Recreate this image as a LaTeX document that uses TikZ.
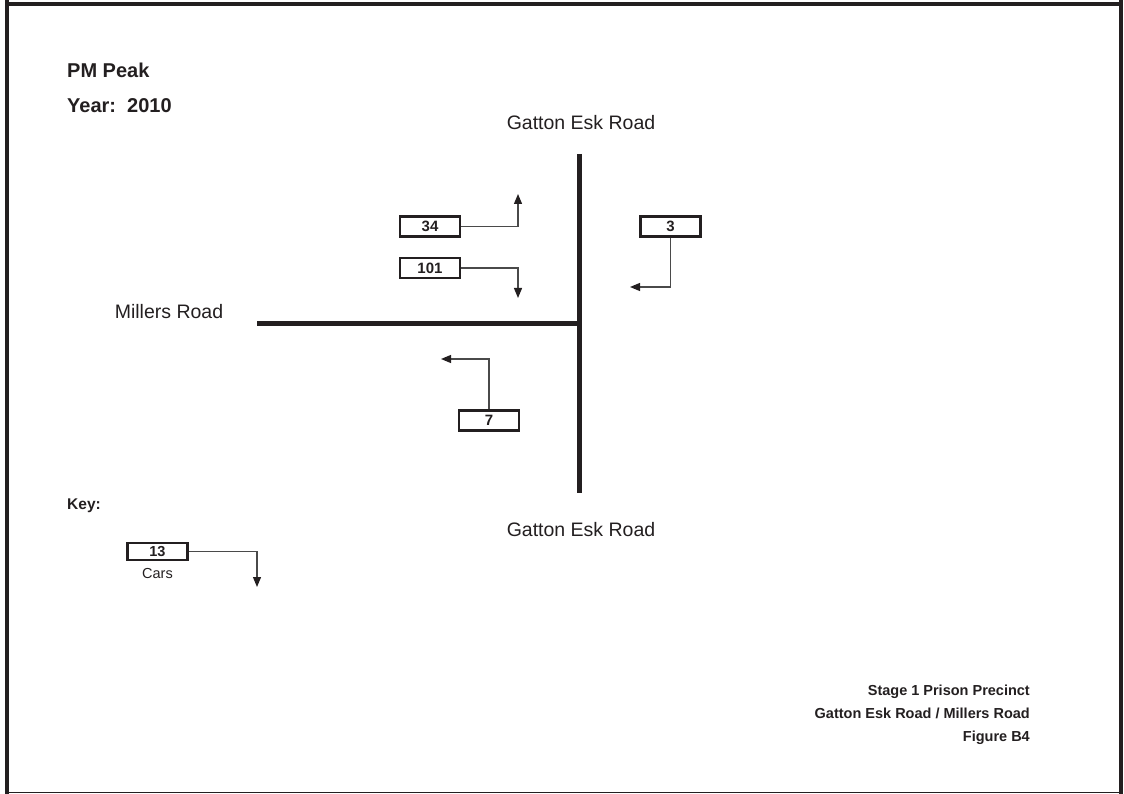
\documentclass[tikz,border=0pt]{standalone}
\usepackage{fontspec}
\setmainfont{Liberation Sans}
\usetikzlibrary{arrows.meta}
\definecolor{ink}{HTML}{231F20}
\definecolor{lead}{HTML}{4A4A4A}
\begin{document}
\begin{tikzpicture}[x=1pt,y=-1pt,
  frame/.style={draw=ink,line width=4pt},
  road/.style={draw=ink,line width=5pt},
  countbox/.style={draw=ink,line width=2.3pt,minimum width=60pt,minimum height=20pt,inner sep=0pt,font=\bfseries\fontsize{15}{15}\selectfont,text=ink},
  lead/.style={draw=lead,line width=1.2pt,-{Triangle[length=10pt,width=8pt,color=ink]}},
  bigtxt/.style={font=\bfseries\fontsize{20}{20}\selectfont,text=ink,anchor=west,inner sep=0pt},
  roadtxt/.style={font=\fontsize{19.5}{19.5}\selectfont,text=ink,inner sep=0pt},
  smalltxt/.style={font=\bfseries\fontsize{14.5}{14.5}\selectfont,text=ink,inner sep=0pt,anchor=east}
]
\useasboundingbox (0,0) rectangle (1124,794);
% frame
\draw[frame] (6.5,0) -- (6.5,794);
\draw[frame] (1121,0) -- (1121,794);
\draw[frame] (6.5,4.5) -- (1121,4.5);
\draw[draw=ink,line width=1.5pt] (6.5,792.5) -- (1121,792.5);
% titles
\node[bigtxt] (pm) at (67,70) {PM Peak};
\node[bigtxt] (yr) at (67,106) {Year:\ \ 2010};
% roads
\coordinate (vt) at (579.5,154);
\coordinate (vb) at (579.5,493);
\coordinate (hl) at (257,323.5);
\coordinate (hr) at (579.5,323.5);
\draw[road] (vt) -- (vb);
\draw[road] (hl) -- (hr);
\node[roadtxt] (gn) at (581,123) {Gatton Esk Road};
\node[roadtxt] (gs) at (581,530) {Gatton Esk Road};
\node[roadtxt] (mr) at (169,312) {Millers Road};
% count boxes
\node[countbox] (b34) at (430,226.5) {34};
\node[countbox] (b101) at (430,268) {101};
\node[countbox] (b3) at (670.5,226.5) {3};
\node[countbox] (b7) at (489,420.5) {7};
\coordinate (a34) at (518,194);
\coordinate (a101) at (518,298);
\coordinate (a3) at (630,287);
\coordinate (a7) at (441,359);
\draw[lead] (b34.east) -| (a34);
\draw[lead] (b101.east) -| (a101);
\draw[lead] (b3.south) |- (a3);
\draw[lead] (b7.north) |- (a7);
% key
\node[font=\bfseries\fontsize{15.5}{15.5}\selectfont,text=ink,anchor=west,inner sep=0pt] (key) at (67,506) {Key:};
\node[countbox,minimum height=17pt,font=\bfseries\fontsize{14.5}{14.5}\selectfont] (b13) at (157.5,551.5) {13};
\node[font=\fontsize{14.5}{14.5}\selectfont,text=ink,inner sep=0pt] (cars) at (157.5,574) {Cars};
\coordinate (a13) at (257,587);
\draw[lead] (b13.east) -| (a13);
% caption
\node[smalltxt] (c1) at (1030,692) {Stage 1 Prison Precinct};
\node[smalltxt] (c2) at (1030,713) {Gatton Esk Road / Millers Road};
\node[smalltxt] (c3) at (1030,738) {Figure B4};
\end{tikzpicture}
\end{document}
